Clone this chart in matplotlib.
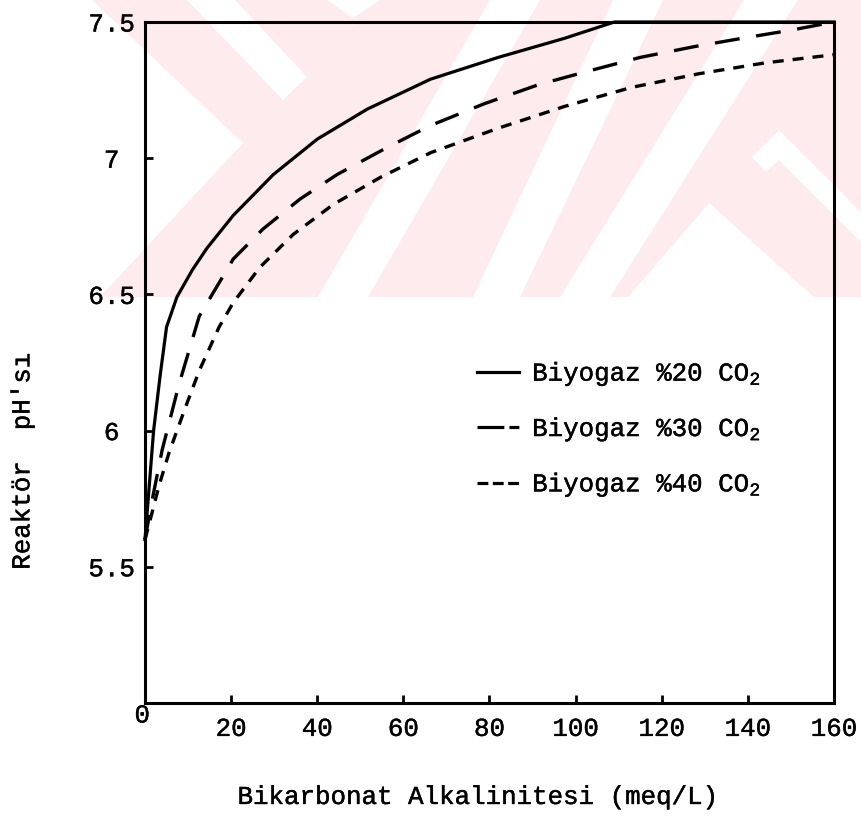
import matplotlib
matplotlib.use("Agg")
import matplotlib.pyplot as plt
import matplotlib.patheffects as pe
from matplotlib.patches import Polygon
from matplotlib.lines import Line2D

plt.rcParams['font.family'] = ['Liberation Mono', 'DejaVu Sans Mono']
plt.rcParams['mathtext.fontset'] = 'custom'
plt.rcParams['mathtext.rm'] = 'Liberation Mono'
plt.rcParams['mathtext.default'] = 'rm'

# bikarbonat alkalinitesi (meq/L) ve reaktor pH degerleri
alk_20 = [0, 1, 2, 3.5, 5, 7.4, 11, 14.4, 20.5, 29.8, 40, 51.6, 66.3, 82, 97.4, 109, 160]
ph_20 = [5.6, 5.8, 6.0, 6.2, 6.38, 6.49, 6.59, 6.67, 6.79, 6.94, 7.07, 7.18, 7.29, 7.37, 7.44, 7.5, 7.5]

alk_30 = [0, 1.6, 4, 7.9, 12.6, 20.5, 27.4, 36, 44.6, 56.3, 66.3, 78.8, 91.4, 103, 115, 127.7, 138.6, 150, 160]
ph_30 = [5.6, 5.74, 5.93, 6.17, 6.42, 6.63, 6.74, 6.85, 6.94, 7.04, 7.12, 7.20, 7.27, 7.32, 7.37, 7.41, 7.44, 7.47, 7.5]

alk_40 = [0, 1, 3.3, 5.6, 9.5, 12.6, 17.2, 20.5, 26.7, 34.4, 43.7, 54.7, 66.3, 82, 97.4, 113, 128.6, 144, 160]
ph_40 = [5.6, 5.66, 5.8, 5.92, 6.09, 6.22, 6.38, 6.47, 6.6, 6.72, 6.83, 6.93, 7.02, 7.11, 7.19, 7.26, 7.31, 7.35, 7.38]

labels = ['Biyogaz %20 CO$_2$', 'Biyogaz %30 CO$_2$', 'Biyogaz %40 CO$_2$']
x_ticks = [0, 20, 40, 60, 80, 100, 120, 140, 160]
x_ticklabels = ['', '20', '40', '60', '80', '100', '120', '140', '160']
y_ticks = [5.5, 6, 6.5, 7, 7.5]
y_ticklabels = ['5.5', '6', '6.5', '7', '7.5']

W, H = 862, 818
fs = 18.6
ink = [pe.withStroke(linewidth=0.3, foreground='black')]

fig = plt.figure(figsize=(W / 100, H / 100), dpi=100)


def fpt(pts):
    return [(x / W, 1 - y / H) for x, y in pts]


# soluk pembe filigran
pink = '#fdebee'
fig.patches.append(Polygon(fpt([(0, 0), (W, 0), (W, 297), (0, 297)]), closed=True,
                           transform=fig.transFigure, fc=pink, ec='none', zorder=-2))
white_parts = [
    [(0, 0), (92, 0), (243, 143), (100, 297), (0, 297)],
    [(187, 0), (235, 0), (307, 77), (283, 100)],
    [(327, 0), (380, 0), (353, 18)],
    [(490, 0), (540, 0), (368, 297), (318, 297)],
    [(613, 0), (663, 0), (520, 297), (473, 297)],
    [(744, 0), (798, 0), (610, 297), (560, 297)],
    [(752, 157), (779, 130), (862, 213), (862, 243), (779, 160), (766, 172)],
    [(709, 203), (814, 297), (628, 297)],
]
for pts in white_parts:
    fig.patches.append(Polygon(fpt(pts), closed=True, transform=fig.transFigure,
                               fc='white', ec='none', zorder=-1))

ax = fig.add_axes([145 / W, 1 - 703 / H, 689 / W, 681 / H])
ax.set_facecolor('none')

ax.plot(alk_20, ph_20, color='black', lw=2.3, clip_on=False)
ax.plot(alk_30, ph_30, color='black', lw=2.4, dashes=(7.5, 5.0), clip_on=False)
ax.plot(alk_40, ph_40, color='black', lw=2.4, dashes=(3.3, 2.7), clip_on=False)

ax.set_xlim(0, 160)
ax.set_ylim(5.0, 7.5)
for s in ax.spines.values():
    s.set_linewidth(2.2)

ax.set_xticks(x_ticks, x_ticklabels)
ax.set_yticks(y_ticks, y_ticklabels)
ax.tick_params(axis='both', direction='in', length=6, width=2, labelsize=fs)
ax.tick_params(axis='x', pad=10)
ax.tick_params(axis='y', pad=24)
for t in ax.get_yticklabels():
    t.set_horizontalalignment('center')
ax.annotate('0', xy=(0, 5.0), xytext=(-2, -9), textcoords='offset points',
            ha='center', va='center', fontsize=fs)

ax.set_xlabel('Bikarbonat Alkalinitesi (meq/L)', fontsize=fs, va='center')
ax.xaxis.set_label_coords(0.483, -0.138)
ax.set_ylabel("Reaktör  pH'sı", fontsize=fs, va='center')
ax.yaxis.set_label_coords(-0.178, 0.355)

# daktilo tarzi lejant cizgileri
handles = [
    Line2D([], [], color='black', lw=2.3),
    Line2D([], [], color='black', lw=2.3, dashes=(8.4, 1.6, 3.1, 4)),
    Line2D([], [], color='black', lw=2.3, dashes=(3.4, 1.4)),
]
leg = ax.legend(handles, labels, loc='upper left', bbox_to_anchor=(0.482, 0.504),
                frameon=False, fontsize=fs, handlelength=1.63, handletextpad=0.5,
                labelspacing=1.06, borderaxespad=0, borderpad=0)

for t in (ax.get_xticklabels() + ax.get_yticklabels() + leg.get_texts()
          + [ax.xaxis.label, ax.yaxis.label] + ax.texts):
    t.set_path_effects(ink)

fig.savefig('out.png', dpi=100)
